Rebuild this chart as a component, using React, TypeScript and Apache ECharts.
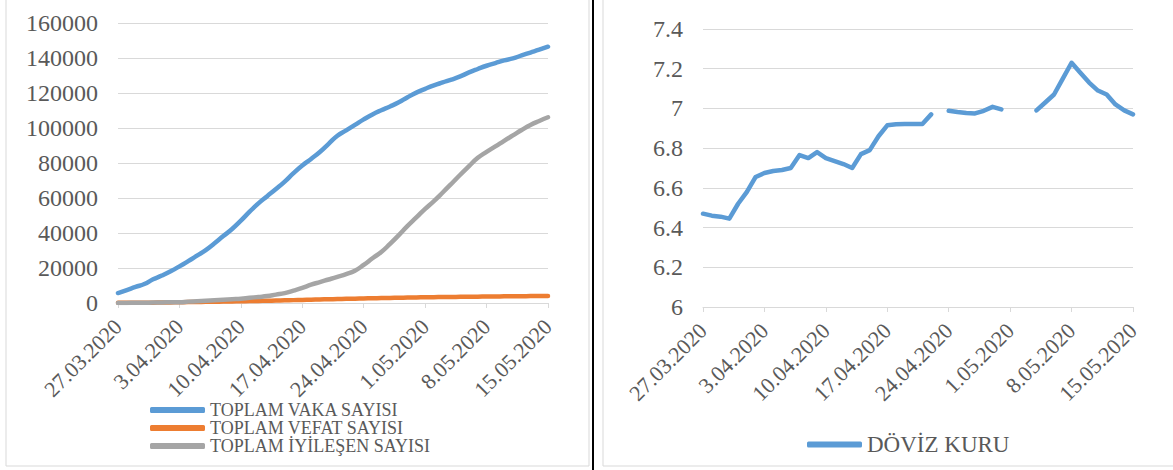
import React, { useEffect, useRef } from "react";
import * as echarts from "echarts";

const dates = [
  "27.03.2020", "28.03.2020", "29.03.2020", "30.03.2020", "31.03.2020",
  "1.04.2020", "2.04.2020", "3.04.2020", "4.04.2020", "5.04.2020", "6.04.2020", "7.04.2020",
  "8.04.2020", "9.04.2020", "10.04.2020", "11.04.2020", "12.04.2020", "13.04.2020", "14.04.2020",
  "15.04.2020", "16.04.2020", "17.04.2020", "18.04.2020", "19.04.2020", "20.04.2020", "21.04.2020",
  "22.04.2020", "23.04.2020", "24.04.2020", "25.04.2020", "26.04.2020", "27.04.2020", "28.04.2020",
  "29.04.2020", "30.04.2020", "1.05.2020", "2.05.2020", "3.05.2020", "4.05.2020", "5.05.2020",
  "6.05.2020", "7.05.2020", "8.05.2020", "9.05.2020", "10.05.2020", "11.05.2020", "12.05.2020",
  "13.05.2020", "14.05.2020", "15.05.2020",
];

const caseTotals = [
  5698, 7402, 9217, 10827, 13531, 15679, 18135, 20921, 23934, 27069,
  30217, 34109, 38226, 42282, 47029, 52167, 56956, 61049, 65111, 69392,
  74193, 78546, 82329, 86306, 90980, 95591, 98674, 101790, 104912, 107773,
  110130, 112261, 114653, 117589, 120204, 122392, 124375, 126045, 127659, 129491,
  131744, 133721, 135569, 137115, 138657, 139771, 141475, 143114, 144749, 146457,
];

const deathTotals = [
  92, 108, 131, 168, 214, 277, 356, 425, 501, 574,
  649, 725, 812, 908, 1006, 1101, 1198, 1296, 1403, 1518,
  1643, 1769, 1890, 2017, 2140, 2259, 2376, 2491, 2600, 2706,
  2805, 2900, 2992, 3081, 3174, 3258, 3336, 3397, 3461, 3520,
  3584, 3641, 3689, 3739, 3786, 3841, 3894, 3952, 4007, 4055,
];

const recoveredTotals = [
  42, 70, 105, 162, 243, 333, 415, 484, 786, 1042,
  1326, 1582, 1846, 2142, 2423, 2965, 3446, 3957, 4799, 5674,
  7089, 8631, 10453, 11976, 13430, 14918, 16477, 18491, 21737, 25582,
  29140, 33791, 38809, 44040, 48886, 53808, 58259, 63151, 68166, 73285,
  78202, 82984, 86396, 89480, 92691, 95780, 98889, 101715, 104030, 106133,
];

const exchangeRate: (number | null)[] = [
  6.47, 6.46, 6.455, 6.445, 6.52, 6.58, 6.655, 6.675, 6.685, 6.69,
  6.7, 6.765, 6.75, 6.78, 6.75, 6.735, 6.72, 6.7, 6.77, 6.79,
  6.86, 6.915, 6.92, 6.922, 6.922, 6.922, 6.97, null, 6.988, 6.982,
  6.977, 6.975, 6.988, 7.008, 6.995, null, null, null, 6.99, 7.03,
  7.07, 7.15, 7.23, 7.18, 7.13, 7.09, 7.07, 7.02, 6.99, 6.97,
];

const covidNames = ["TOPLAM VAKA SAYISI", "TOPLAM VEFAT SAYISI", "TOPLAM İYİLEŞEN SAYISI"];
const rateName = "DÖVİZ KURU";

export default function App() {
  const ref = useRef<HTMLDivElement>(null);

  useEffect(() => {
    const chart = echarts.init(ref.current as HTMLDivElement, null, { renderer: "svg" });
    const font = "Times New Roman, Liberation Serif, serif";
    const labelColor = "#595959";
    const gridColor = "#D9D9D9";
    const colors = ["#5B9BD5", "#ED7D31", "#A5A5A5"];

    const xAxisFor = (gridIndex: number) => ({
      type: "category",
      gridIndex,
      data: dates,
      boundaryGap: false,
      axisLine: { lineStyle: { color: gridColor, width: 1 } },
      axisTick: { interval: 6, length: 5, lineStyle: { color: gridColor } },
      axisLabel: {
        interval: 6,
        rotate: 45,
        margin: 20,
        color: labelColor,
        fontFamily: font,
        fontSize: 22,
      },
      splitLine: { show: false },
    });

    const lineSeries = (name: string, data: (number | null)[], color: string, idx: number, smooth: boolean) => ({
      name,
      type: "line",
      xAxisIndex: idx,
      yAxisIndex: idx,
      data,
      smooth,
      showSymbol: false,
      connectNulls: false,
      lineStyle: { color, width: 4.5, cap: "round", join: "round" },
      itemStyle: { color },
    });

    chart.setOption({
      animation: false,
      backgroundColor: "#ffffff",
      textStyle: { fontFamily: font },
      grid: [
        { left: 118, top: 23, width: 430, height: 280 },
        { left: 703, top: 29, width: 430, height: 278 },
      ],
      xAxis: [xAxisFor(0), xAxisFor(1)],
      yAxis: [
        {
          type: "value",
          gridIndex: 0,
          min: 0,
          max: 160000,
          interval: 20000,
          axisLine: { show: false },
          axisTick: { show: false },
          splitLine: { lineStyle: { color: gridColor, width: 1 } },
          axisLabel: {
            margin: 20,
            color: labelColor,
            fontFamily: font,
            fontSize: 24,
            formatter: (v: number) => String(v),
          },
        },
        {
          type: "value",
          gridIndex: 1,
          min: 6,
          max: 7.4,
          interval: 0.2,
          axisLine: { show: false },
          axisTick: { show: false },
          splitLine: { lineStyle: { color: gridColor, width: 1 } },
          axisLabel: {
            margin: 20,
            color: labelColor,
            fontFamily: font,
            fontSize: 24,
            formatter: (v: number) => String(Math.round(v * 10) / 10),
          },
        },
      ],
      legend: [
        {
          data: covidNames,
          orient: "vertical",
          left: 150,
          top: 401,
          padding: 0,
          icon: "roundRect",
          itemWidth: 55,
          itemHeight: 6,
          itemGap: 0,
          textStyle: { fontFamily: font, fontSize: 18, color: labelColor, lineHeight: 18 },
        },
        {
          data: [rateName],
          orient: "horizontal",
          left: 807,
          top: 433,
          padding: 0,
          icon: "roundRect",
          itemWidth: 55,
          itemHeight: 6,
          textStyle: { fontFamily: font, fontSize: 23, color: labelColor },
        },
      ],
      graphic: [
        {
          type: "rect",
          shape: { x: 6, y: -2, width: 583, height: 468 },
          style: { fill: "none", stroke: gridColor, lineWidth: 1 },
          silent: true,
        },
        {
          type: "rect",
          shape: { x: 603, y: -2, width: 580, height: 468 },
          style: { fill: "none", stroke: gridColor, lineWidth: 1 },
          silent: true,
        },
        {
          type: "line",
          shape: { x1: 593, y1: 0, x2: 593, y2: 470 },
          style: { stroke: "#000000", lineWidth: 2 },
          silent: true,
        },
      ],
      series: [
        lineSeries(covidNames[0], caseTotals, colors[0], 0, true),
        lineSeries(covidNames[1], deathTotals, colors[1], 0, true),
        lineSeries(covidNames[2], recoveredTotals, colors[2], 0, true),
        lineSeries(rateName, exchangeRate, colors[0], 1, false),
      ],
    });

    return () => chart.dispose();
  }, []);

  return (
    <div
      ref={ref}
      style={{ position: "fixed", left: 0, top: 0, width: 1173, height: 470, background: "#fff" }}
    />
  );
}
